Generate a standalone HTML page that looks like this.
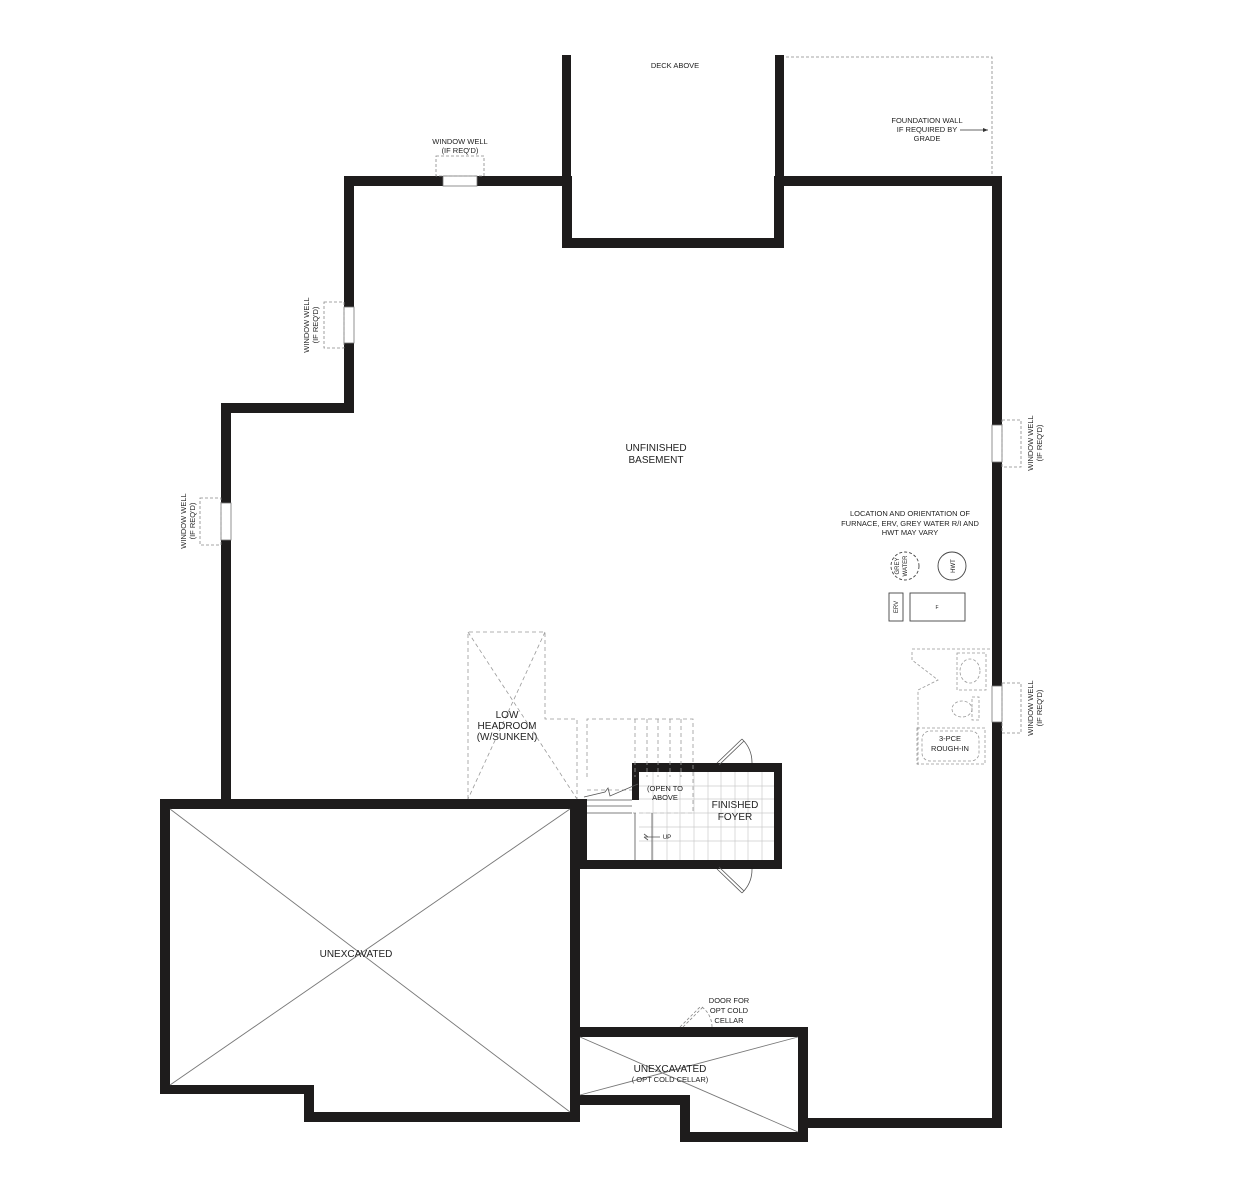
<!DOCTYPE html>
<html><head><meta charset="utf-8"><style>
html,body{margin:0;padding:0;background:#fff;}
svg{display:block;}
text{font-family:"Liberation Sans",sans-serif;fill:#222;}
</style></head><body>
<svg width="1250" height="1200" viewBox="0 0 1250 1200" xmlns="http://www.w3.org/2000/svg">
<g fill="#1e1c1c">
<rect x="562" y="55" width="9" height="131"/>
<rect x="775" y="55" width="9" height="131"/>
<rect x="344" y="176" width="227" height="10"/>
<rect x="562" y="176" width="10" height="71"/>
<rect x="562" y="238" width="222" height="10"/>
<rect x="774" y="176" width="10" height="71"/>
<rect x="774" y="176" width="228" height="10"/>
<rect x="992" y="176" width="10" height="952"/>
<rect x="344" y="176" width="10" height="237"/>
<rect x="221" y="403" width="133" height="10"/>
<rect x="221" y="403" width="10" height="400"/>
<rect x="160" y="799" width="427" height="10"/>
<rect x="160" y="799" width="10" height="295"/>
<rect x="160" y="1085" width="154" height="9"/>
<rect x="304" y="1085" width="10" height="37"/>
<rect x="304" y="1112" width="276" height="10"/>
<rect x="570" y="799" width="10" height="323"/>
<rect x="570" y="799" width="17" height="69"/>
<rect x="580" y="860" width="201" height="9"/>
<rect x="632" y="763" width="149" height="9"/>
<rect x="632" y="763" width="7" height="37"/>
<rect x="774" y="763" width="8" height="106"/>
<rect x="572" y="1027" width="236" height="10"/>
<rect x="798" y="1027" width="10" height="115"/>
<rect x="680" y="1132" width="128" height="10"/>
<rect x="680" y="1095" width="10" height="47"/>
<rect x="572" y="1095" width="118" height="10"/>
<rect x="798" y="1118" width="204" height="10"/>
</g>
<g fill="#fff" stroke="#777" stroke-width="0.8">
<rect x="443" y="176" width="34" height="10"/>
<rect x="344" y="307" width="10" height="36"/>
<rect x="221" y="503" width="10" height="37"/>
<rect x="992" y="425" width="10" height="37"/>
<rect x="992" y="686" width="10" height="36"/>
</g>
<g fill="none" stroke="#888" stroke-width="0.8" stroke-dasharray="3,2">
<rect x="436" y="156" width="48" height="20"/>
<rect x="324" y="302" width="20" height="46"/>
<rect x="200" y="498" width="21" height="47"/>
<rect x="1002" y="420" width="19" height="47"/>
<rect x="1002" y="683" width="19" height="50"/>
<path d="M786 57 H992 V176"/>
</g>
<path d="M960 130 H988" stroke="#333" stroke-width="0.8"/>
<path d="M988 130 l-5 -2 v4z" fill="#333"/>
<g stroke="#777" stroke-width="0.9">
<line x1="170" y1="809" x2="570" y2="1112"/>
<line x1="570" y1="809" x2="170" y2="1085"/>
<line x1="580" y1="1037" x2="798" y2="1132"/>
<line x1="580" y1="1095" x2="798" y2="1037"/>
</g>
<g fill="none" stroke="#999" stroke-width="0.8" stroke-dasharray="4,3">
<path d="M468 799 V632 H545 V719 H577 V799"/>
<line x1="468" y1="632" x2="577" y2="799"/>
<line x1="545" y1="632" x2="468" y2="799"/>
<path d="M587 777 V719 H693 V813 H633"/>
<line x1="635" y1="719" x2="635" y2="777"/>
<line x1="647" y1="719" x2="647" y2="777"/>
<line x1="658" y1="719" x2="658" y2="777"/>
<line x1="670" y1="719" x2="670" y2="777"/>
<line x1="681" y1="719" x2="681" y2="777"/>
<line x1="587" y1="790" x2="632" y2="790"/>
</g>
<g stroke="#ccc" stroke-width="0.7">
<path d="M653 772V860 M667 772V860 M680 772V860 M694 772V860 M708 772V860 M721 772V860 M735 772V860 M748 772V860 M762 772V860"/>
<path d="M639 786H774 M639 799H774 M639 813H774 M639 827H774 M639 841H774"/>
</g>
<g stroke="#555" stroke-width="0.8" fill="none">
<path d="M587 806 H632 M587 813 H632 M587 800 H632"/>
<path d="M635 813 V860 M652 813 V860"/>
<path d="M584 797 L605 792 L608 788 L610 796 L638 784"/>
<path d="M648 837 l-4 -3 M644 837 l4 3 M644 837 H660"/>
<path d="M717 763 L742 739 M719 765 L744 741"/>
<path d="M742 739 A33 33 0 0 1 752 763"/>
<path d="M717 869 L742 893 M719 867 L744 891"/>
<path d="M742 893 A33 33 0 0 0 752 869"/>
</g>
<g stroke="#888" stroke-width="0.8" fill="none" stroke-dasharray="3,2">
<path d="M680 1027 L700 1007 M683 1027 L703 1007"/>
<path d="M702 1007 A25 25 0 0 1 712 1027"/>
</g>
<g fill="none" stroke="#444" stroke-width="0.9">
<circle cx="952" cy="566" r="14"/>
<rect x="889" y="593" width="14" height="28"/>
<rect x="910" y="593" width="55" height="28"/>
</g>
<circle cx="905" cy="566" r="14" fill="none" stroke="#444" stroke-width="0.9" stroke-dasharray="3,2"/>
<g fill="none" stroke="#999" stroke-width="0.8" stroke-dasharray="3,2">
<path d="M912 649 H992 M912 652 V660 L938 680 L918 690 V766"/>
<rect x="957" y="653" width="29" height="37"/>
<rect x="917" y="728" width="68" height="36"/>
<rect x="922" y="731" width="57" height="30" rx="8"/>
<ellipse cx="970" cy="671" rx="10" ry="12"/>
<ellipse cx="962" cy="709" rx="10" ry="8"/>
<rect x="972" y="697" width="7" height="23"/>
</g>
<g font-size="7.5" text-anchor="middle">
<text x="675" y="68">DECK ABOVE</text>
<text x="927" y="123">FOUNDATION WALL</text>
<text x="927" y="132">IF REQUIRED BY</text>
<text x="927" y="141">GRADE</text>
<text x="460" y="144">WINDOW WELL</text>
<text x="460" y="153">(IF REQ'D)</text>
<text x="910" y="516">LOCATION AND ORIENTATION OF</text>
<text x="910" y="526">FURNACE, ERV, GREY WATER R/I AND</text>
<text x="910" y="535">HWT MAY VARY</text>
<text x="665" y="791">(OPEN TO</text>
<text x="665" y="800">ABOVE</text>
<text x="667" y="839" font-size="6">UP</text>
<text x="950" y="741">3-PCE</text>
<text x="950" y="751">ROUGH-IN</text>
<text x="729" y="1003">DOOR FOR</text>
<text x="729" y="1013">OPT COLD</text>
<text x="729" y="1023">CELLAR</text>
<text x="670" y="1082">( OPT COLD CELLAR)</text>
</g>
<g font-size="7.5" text-anchor="middle">
<text transform="translate(309 325) rotate(-90)">WINDOW WELL</text>
<text transform="translate(318 325) rotate(-90)">(IF REQ'D)</text>
<text transform="translate(186 521) rotate(-90)">WINDOW WELL</text>
<text transform="translate(195 521) rotate(-90)">(IF REQ'D)</text>
<text transform="translate(1033 443) rotate(-90)">WINDOW WELL</text>
<text transform="translate(1042 443) rotate(-90)">(IF REQ'D)</text>
<text transform="translate(1033 708) rotate(-90)">WINDOW WELL</text>
<text transform="translate(1042 708) rotate(-90)">(IF REQ'D)</text>
<text transform="translate(899 566) rotate(-90)" font-size="6">GREY</text>
<text transform="translate(907 566) rotate(-90)" font-size="6">WATER</text>
<text transform="translate(955 566) rotate(-90)" font-size="6">HWT</text>
<text transform="translate(898 607) rotate(-90)" font-size="6">ERV</text>
<text x="937" y="609" font-size="5">F</text>
</g>
<g font-size="10" text-anchor="middle">
<text x="656" y="451">UNFINISHED</text>
<text x="656" y="463">BASEMENT</text>
<text x="507" y="718">LOW</text>
<text x="507" y="729">HEADROOM</text>
<text x="507" y="740">(W/SUNKEN)</text>
<text x="735" y="808">FINISHED</text>
<text x="735" y="820">FOYER</text>
<text x="356" y="957">UNEXCAVATED</text>
<text x="670" y="1072">UNEXCAVATED</text>
</g>
</svg>
</body></html>
